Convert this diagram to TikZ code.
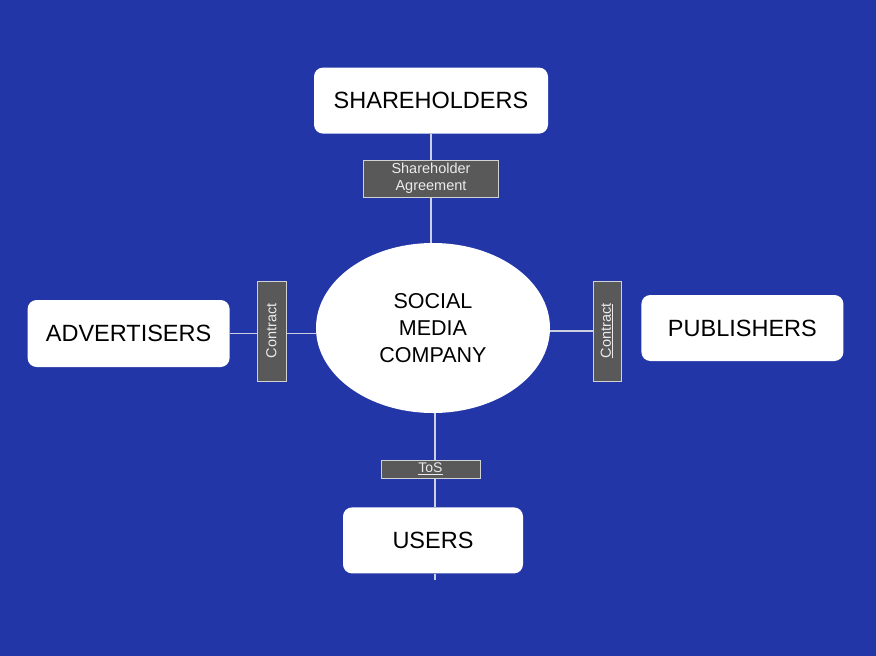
\documentclass[tikz,border=0pt]{standalone}
\usepackage{fontspec}
\setmainfont{Liberation Sans}
\usetikzlibrary{positioning,shapes.geometric}
\definecolor{bgblue}{RGB}{34,54,168}
\definecolor{tagfill}{RGB}{89,89,89}
\definecolor{wire}{RGB}{205,208,225}
\tikzset{
  party/.style={draw=none,fill=white,rounded corners=9pt,minimum height=66pt,inner sep=0pt,font=\fontsize{23.5}{28}\selectfont},
  tag/.style={fill=tagfill,draw=gray!35,line width=0.8pt,inner sep=0pt,text=white!92!black,font=\fontsize{14.5}{17}\selectfont,align=center},
  wireline/.style={draw=wire,line width=1.3pt}
}
\begin{document}
\begin{tikzpicture}[scale=1.0,>=stealth]
  \fill[bgblue] (0pt,0pt) rectangle (876pt,-656pt);
  \node (company) [ellipse,fill=white,minimum width=234pt,minimum height=170pt,inner sep=0pt,align=center,font=\fontsize{21.5}{27}\selectfont] at (433pt,-328pt) {SOCIAL\\MEDIA\\COMPANY};
  \node (shareholders) [party,minimum width=234pt,above =109pt of company,xshift=-2pt] {SHAREHOLDERS};
  \node (advertisers) [party,minimum width=202pt,minimum height=67pt,left =86pt of company,yshift=-5.5pt] {ADVERTISERS};
  \node (publishers) [party,minimum width=202pt,right =91pt of company] {PUBLISHERS};
  \node (users) [party,minimum width=180pt,below =94pt of company] {USERS};
  \coordinate (usersend) at (435pt,-580pt);
  \draw[wireline](shareholders)--(shareholders |- company.north);
  \draw[wireline](advertisers)--(advertisers -| company.west);
  \draw[wireline](company.east |- 0,-331pt)--(593pt,-331pt);
  \draw[wireline](company.south -| usersend)--(users.north -| usersend);
  \draw[wireline](users.south -| usersend)--(usersend);
  \node (agreement) [tag,minimum width=135pt,minimum height=37pt,below =26pt of shareholders] {Shareholder\\Agreement};
  \node (contractL) [tag,rotate=90,minimum width=100pt,minimum height=29pt] at (271.5pt,-331pt) {Contract};
  \node (contractR) [tag,rotate=90,minimum width=100pt,minimum height=28pt] at (607pt,-331pt) {\underline{Contract}};
  \node (tos) [tag,minimum width=99pt,minimum height=18pt,font=\fontsize{14}{16}\selectfont] at (430.5pt,-469pt) {\underline{ToS}};
\end{tikzpicture}
\end{document}
